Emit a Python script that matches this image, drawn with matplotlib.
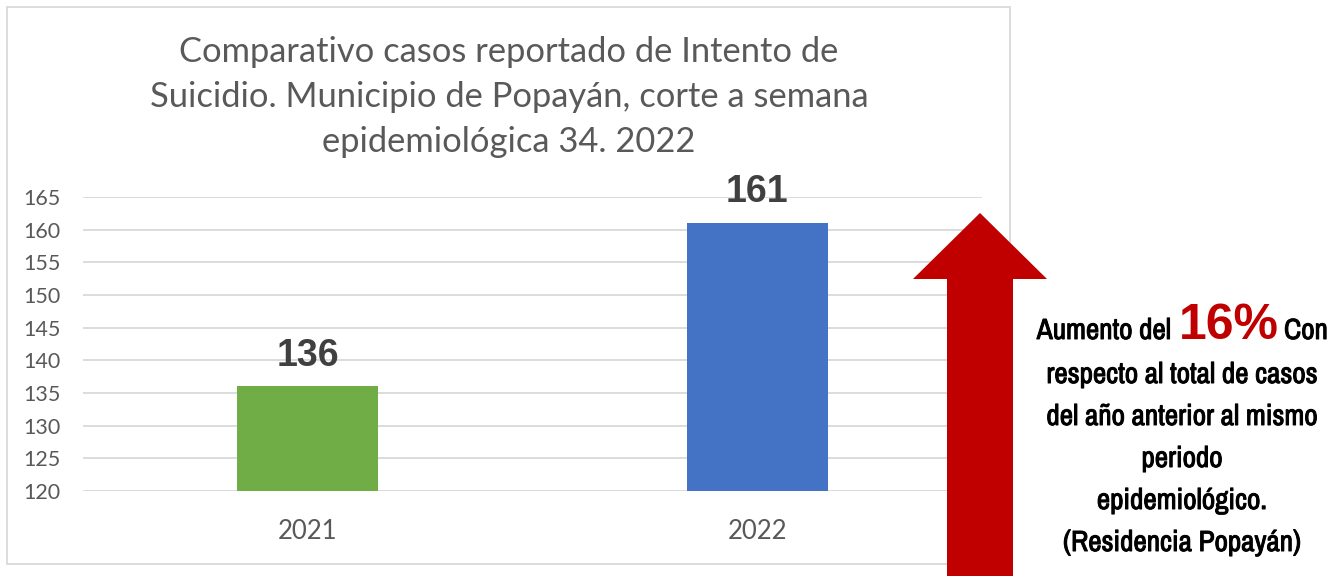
import matplotlib
matplotlib.use("Agg")
import matplotlib.pyplot as plt
import matplotlib.patheffects as pe
from matplotlib import font_manager
from matplotlib.patches import Polygon, Rectangle

# ── data ──────────────────────────────────────────────────────────────────────
years = ["2021", "2022"]
cases = [136, 161]
bar_colors = ["#70AD47", "#4472C4"]
y_ticks = [120, 125, 130, 135, 140, 145, 150, 155, 160, 165]

title_lines = [
    "Comparativo casos reportado de Intento de",
    "Suicidio. Municipio de Popayán, corte a semana",
    "epidemiológica 34. 2022",
]
note_head = ["Aumento del", "16%", "Con"]
note_lines = [
    "respecto al total de casos",
    "del año anterior al mismo",
    "periodo",
    "epidemiológico.",
    "(Residencia Popayán)",
]

W, H = 1342, 576
GRAY = "#595959"
GRID = "#D9D9D9"

# look for a narrow face for the side note
narrow_names = sorted({f.name for f in font_manager.fontManager.ttflist
                       if "Condensed" in f.name or "Narrow" in f.name})
NARROW = narrow_names[:1] + ["Roboto", "DejaVu Sans"]
narrow_stretch = "normal"
if not narrow_names:
    path = font_manager.findfont(font_manager.FontProperties(
        family="DejaVu Sans", stretch="condensed", weight="bold"))
    if "Condensed" in path:
        NARROW = ["DejaVu Sans"]
        narrow_stretch = "condensed"


def fx(px):
    return px / W


def fy(py):
    return 1 - py / H


fig = plt.figure(figsize=(W / 100, H / 100), dpi=100)

# chart frame
fig.patches.append(Rectangle((fx(7), fy(564)), fx(1010) - fx(7), fy(7) - fy(564),
                             transform=fig.transFigure, fill=False,
                             edgecolor=GRID, lw=1.3, zorder=0))

ax = fig.add_axes([fx(83), fy(491), fx(982) - fx(83), fy(197) - fy(491)])
x = list(range(len(years)))
ax.bar(x, cases, width=0.314, color=bar_colors, zorder=3)
ax.set_xlim(-0.5, len(years) - 0.5)
ax.set_ylim(120, 165)
ax.set_yticks(y_ticks)
ax.set_xticks(x)
ax.set_xticklabels(years)
ax.grid(axis="y", color=GRID, lw=1.3, zorder=0)
for s in ax.spines.values():
    s.set_visible(False)
ax.tick_params(axis="y", length=0, pad=16, labelsize=15.5, labelcolor=GRAY)
ax.tick_params(axis="x", length=0, pad=20, labelsize=18.5, labelcolor=GRAY)
for lab in ax.get_xticklabels() + ax.get_yticklabels():
    lab.set_family("Lato")

for xi, v in zip(x, cases):
    ax.annotate(str(v), (xi, v), xytext=(0, 15), textcoords="offset points",
                ha="center", va="baseline", fontsize=27, fontweight="bold",
                color="#404040", family="Liberation Sans", annotation_clip=False)

# title
for i, line in enumerate(title_lines):
    fig.text(fx(509), fy(62 + 45 * i), line, ha="center", va="baseline",
             fontsize=24.8, color=GRAY, family="Lato")

# red arrow
arrow = [(947, 576), (947, 279), (913, 279), (980, 213), (1047, 279),
         (1013, 279), (1013, 576)]
fig.patches.append(Polygon([(fx(a), fy(b)) for a, b in arrow], closed=True,
                           transform=fig.transFigure, facecolor="#C00000",
                           edgecolor="none", zorder=5))

# side note (stroke thickens the narrow face a bit)
heavy = [pe.withStroke(linewidth=0.7, foreground="black")]
note_kw = dict(fontsize=21, fontweight="bold", family=NARROW,
               fontstretch=narrow_stretch, color="black", va="baseline",
               path_effects=heavy)
fig.text(fx(1171), fy(339), note_head[0], ha="right", **note_kw)
fig.text(fx(1179), fy(339), note_head[1], ha="left", va="baseline",
         fontsize=36, fontweight="bold", family="Liberation Sans", color="#C00000")
fig.text(fx(1284), fy(339), note_head[2], ha="left", **note_kw)
for i, line in enumerate(note_lines):
    fig.text(fx(1182), fy(383 + 42 * i), line, ha="center", **note_kw)

fig.savefig("out.png", dpi=100)
